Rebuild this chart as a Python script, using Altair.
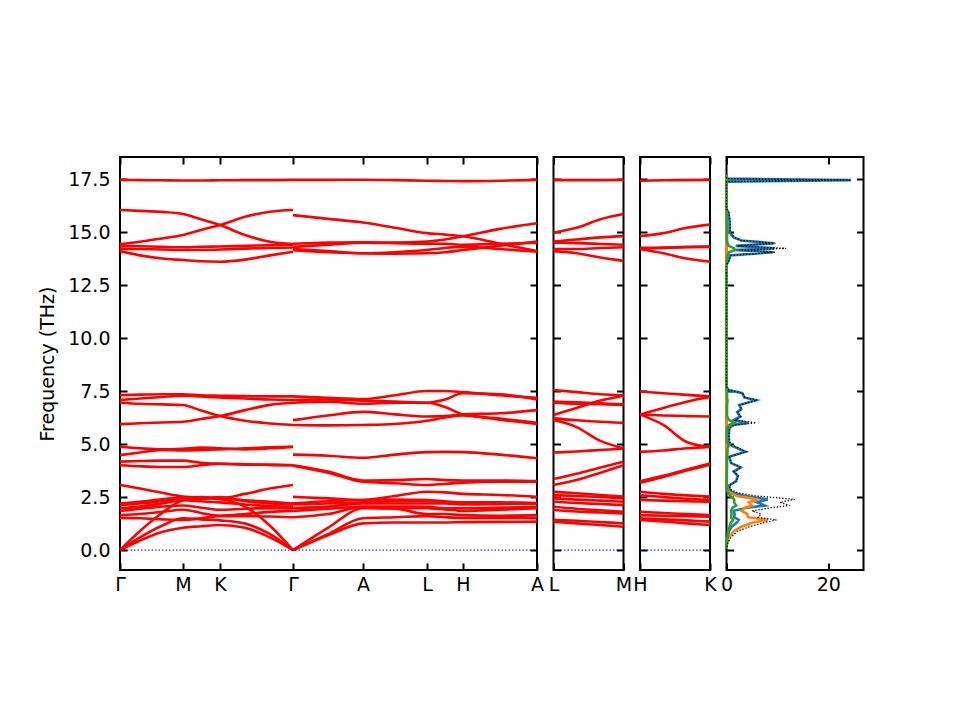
import altair as alt
import pandas as pd

# ---------------- axes / ticks ----------------
FREQ_TICKS = [0.0, 2.5, 5.0, 7.5, 10.0, 12.5, 15.0, 17.5]
Y_DOMAIN = [-0.94, 18.54]

PATH_POS = [0, 63, 100, 173, 243, 307, 343, 417]
PATH_LABELS = ["Γ", "M", "K", "Γ", "A", "L", "H", "A"]
LM_POS = [0, 70]
LM_LABELS = ["L", "M"]
HK_POS = [0, 69]
HK_LABELS = ["H", "K"]
DOS_TICKS = [0, 20]
DOS_DOMAIN = [0, 26.9]

# ---------------- band data (THz) ----------------
SEG1_K = [0, 20, 42, 63, 81, 100, 125, 150, 173]          # Γ-M-K-Γ
SEG1_BANDS = [
    [0, 0.45, 0.85, 1.05, 1.12, 1.18, 1.05, 0.6, 0],
    [0, 0.6, 1.15, 1.5, 1.45, 1.4, 1.25, 0.75, 0],
    [0, 0.9, 1.75, 2.35, 2.45, 2.4, 2.05, 1.15, 0],
    [1.52, 1.5, 1.45, 1.42, 1.5, 1.6, 1.6, 1.58, 1.55],
    [1.65, 1.7, 1.8, 1.9, 1.75, 1.62, 1.7, 1.8, 1.85],
    [1.84, 1.95, 2.05, 2.1, 2.0, 1.9, 1.95, 1.98, 1.98],
    [1.97, 2.05, 2.2, 2.35, 2.3, 2.25, 2.15, 2.08, 2.05],
    [2.12, 2.2, 2.3, 2.45, 2.42, 2.5, 2.3, 2.2, 2.15],
    [2.2, 2.28, 2.4, 2.48, 2.5, 2.45, 2.35, 2.28, 2.2],
    [3.07, 2.9, 2.7, 2.52, 2.47, 2.45, 2.65, 2.9, 3.07],
    [4.87, 4.8, 4.75, 4.78, 4.83, 4.8, 4.75, 4.8, 4.87],
    [4.48, 4.6, 4.72, 4.7, 4.72, 4.75, 4.8, 4.85, 4.87],
    [4.17, 4.2, 4.22, 4.22, 4.12, 4.07, 4.03, 4.02, 4.0],
    [4.0, 3.95, 3.92, 3.92, 4.0, 4.07, 4.05, 4.02, 4.0],
    [7.31, 7.33, 7.35, 7.35, 7.3, 7.28, 7.26, 7.25, 7.25],
    [7.08, 7.15, 7.22, 7.28, 7.24, 7.2, 7.15, 7.1, 7.08],
    [6.95, 6.9, 6.87, 6.84, 6.58, 6.32, 6.1, 5.97, 5.9],
    [5.94, 5.98, 6.02, 6.05, 6.18, 6.32, 6.6, 6.85, 6.95],
    [14.1, 13.9, 13.75, 13.68, 13.62, 13.6, 13.7, 13.9, 14.07],
    [14.22, 14.2, 14.18, 14.15, 14.15, 14.18, 14.22, 14.25, 14.27],
    [14.35, 14.33, 14.3, 14.28, 14.3, 14.32, 14.35, 14.38, 14.4],
    [14.43, 14.54, 14.7, 14.86, 15.1, 15.33, 15.72, 15.96, 16.04],
    [16.04, 16.0, 15.95, 15.85, 15.6, 15.33, 14.86, 14.54, 14.43],
    [17.46, 17.45, 17.44, 17.43, 17.43, 17.44, 17.45, 17.45, 17.46],
]

SEG2_K = [173, 208, 243, 275, 307, 325, 343, 380, 417]     # Γ-A-L-H-A
SEG2_BANDS = [
    [0, 0.7, 1.26, 1.3, 1.3, 1.3, 1.32, 1.33, 1.34],
    [0, 0.75, 1.5, 1.55, 1.6, 1.55, 1.52, 1.52, 1.52],
    [0, 1.05, 1.97, 1.95, 1.7, 1.7, 1.65, 1.62, 1.65],
    [1.55, 1.7, 2.04, 2.0, 1.97, 1.92, 1.85, 1.9, 1.97],
    [1.85, 1.95, 2.04, 2.05, 2.04, 1.97, 1.97, 2.0, 2.04],
    [1.98, 2.05, 2.2, 2.2, 2.2, 2.2, 2.15, 2.18, 2.2],
    [2.15, 2.2, 2.25, 2.3, 2.3, 2.27, 2.22, 2.2, 2.2],
    [2.2, 2.3, 2.36, 2.38, 2.36, 2.3, 2.25, 2.25, 2.22],
    [2.51, 2.44, 2.36, 2.55, 2.75, 2.72, 2.65, 2.6, 2.51],
    [3.98, 3.65, 3.22, 3.15, 3.07, 3.12, 3.18, 3.22, 3.22],
    [4.0, 3.7, 3.28, 3.3, 3.35, 3.3, 3.28, 3.28, 3.25],
    [4.5, 4.45, 4.35, 4.5, 4.62, 4.63, 4.62, 4.5, 4.33],
    [5.9, 5.88, 5.9, 5.95, 6.1, 6.25, 6.35, 6.15, 5.95],
    [6.13, 6.35, 6.52, 6.4, 6.3, 6.32, 6.4, 6.45, 6.6],
    [6.95, 7.0, 6.9, 6.95, 6.95, 6.75, 6.4, 6.2, 6.0],
    [7.08, 7.1, 7.05, 7.0, 6.95, 7.1, 7.4, 7.35, 7.1],
    [7.25, 7.18, 7.12, 7.3, 7.5, 7.5, 7.45, 7.3, 7.18],
    [14.15, 14.05, 14.0, 13.98, 14.0, 14.05, 14.15, 14.35, 14.55],
    [14.2, 14.1, 14.0, 14.05, 14.15, 14.25, 14.3, 14.2, 14.07],
    [14.3, 14.4, 14.5, 14.48, 14.45, 14.45, 14.4, 14.45, 14.5],
    [14.45, 14.5, 14.52, 14.5, 14.55, 14.65, 14.8, 15.15, 15.42],
    [15.8, 15.62, 15.45, 15.2, 14.95, 14.88, 14.8, 14.45, 14.1],
    [17.46, 17.46, 17.47, 17.45, 17.42, 17.41, 17.4, 17.42, 17.46],
]

LM_K = [0, 23, 47, 70]                                      # L-M
LM_BANDS = [
    [1.34, 1.26, 1.18, 1.1],
    [1.42, 1.38, 1.32, 1.26],
    [1.89, 1.82, 1.77, 1.73],
    [2.04, 1.95, 1.88, 1.81],
    [2.28, 2.22, 2.17, 2.12],
    [2.44, 2.38, 2.33, 2.28],
    [2.59, 2.55, 2.5, 2.44],
    [2.75, 2.68, 2.6, 2.52],
    [3.07, 3.3, 3.65, 4.0],
    [3.35, 3.6, 3.9, 4.17],
    [4.6, 4.65, 4.72, 4.78],
    [6.13, 5.8, 5.15, 4.8],
    [6.21, 6.12, 6.05, 6.0],
    [6.37, 6.7, 7.05, 7.28],
    [6.95, 6.9, 6.88, 6.84],
    [7.0, 6.97, 6.92, 6.87],
    [7.55, 7.45, 7.35, 7.3],
    [14.1, 14.0, 13.8, 13.64],
    [14.2, 14.2, 14.25, 14.28],
    [14.5, 14.48, 14.44, 14.4],
    [14.55, 14.65, 14.75, 14.81],
    [14.97, 15.2, 15.6, 15.85],
    [17.45, 17.45, 17.45, 17.46],
]

HK_K = [0, 23, 46, 69]                                      # H-K
HK_BANDS = [
    [1.42, 1.35, 1.26, 1.18],
    [1.5, 1.45, 1.4, 1.34],
    [1.65, 1.62, 1.6, 1.57],
    [1.81, 1.75, 1.7, 1.65],
    [2.36, 2.33, 2.3, 2.28],
    [2.59, 2.5, 2.42, 2.36],
    [2.75, 2.65, 2.58, 2.52],
    [3.18, 3.45, 3.75, 4.03],
    [3.25, 3.5, 3.8, 4.08],
    [4.63, 4.7, 4.8, 4.87],
    [6.4, 5.9, 5.1, 4.87],
    [6.4, 6.35, 6.32, 6.3],
    [6.4, 6.7, 7.0, 7.22],
    [7.48, 7.4, 7.32, 7.25],
    [14.2, 14.0, 13.75, 13.6],
    [14.22, 14.25, 14.28, 14.3],
    [14.25, 14.27, 14.3, 14.32],
    [14.81, 14.95, 15.2, 15.35],
    [17.42, 17.44, 17.45, 17.46],
]

# ---------------- DOS data ----------------
DOS_FREQ = [0.0, 0.3, 0.6, 0.9, 1.1, 1.3, 1.42, 1.55, 1.7, 1.85, 2.0, 2.1, 2.25, 2.39,
            2.55, 2.7, 2.85, 3.05, 3.25, 3.5, 3.7, 3.9, 4.1, 4.4, 4.64, 4.8, 4.95, 5.1,
            5.4, 5.75, 5.9, 6.0, 6.13, 6.3, 6.5, 6.65, 6.84, 7.07, 7.2, 7.4, 7.55, 7.7,
            13.45, 13.65, 13.9, 14.05, 14.15, 14.23, 14.35, 14.47, 14.6, 14.75, 15.0,
            15.5, 15.9, 16.1, 17.38, 17.45, 17.52, 17.7]
DOS_TOTAL = [0, 0.2, 0.9, 2.2, 4.5, 7.5, 9.8, 6.2, 6.8, 5.0, 8.8, 12.4, 10.5, 13.4,
             6.0, 2.2, 0.8, 0.6, 2.0, 2.3, 1.5, 2.9, 1.0, 0.6, 3.9, 2.4, 1.2, 0.6,
             0.5, 0.6, 1.6, 5.8, 1.8, 2.8, 2.2, 3.0, 2.6, 6.0, 3.6, 3.2, 0.5, 0,
             0, 0.5, 0.9, 9.6, 2.5, 11.7, 2.2, 9.6, 3.0, 1.5, 0.7,
             0.7, 0.5, 0, 0, 24.5, 0, 0]
DOS_BLUE = [0, 0.05, 0.25, 0.5, 1.0, 2.0, 2.4, 1.5, 1.6, 1.4, 4.0, 7.5, 6.0, 8.1,
            3.6, 1.3, 0.6, 0.5, 1.9, 2.2, 1.4, 2.8, 0.9, 0.5, 3.7, 2.2, 0.7, 0.5,
            0.45, 0.55, 1.2, 4.2, 1.4, 2.7, 2.1, 2.9, 2.5, 5.8, 3.5, 3.1, 0.4, 0,
            0, 0.4, 0.7, 9.1, 1.5, 9.4, 1.8, 9.4, 2.9, 1.4, 0.6,
            0.6, 0.4, 0, 0, 24.4, 0, 0]
DOS_ORANGE = [0, 0.1, 0.45, 1.5, 2.9, 5.2, 8.1, 4.2, 4.1, 3.0, 3.6, 5.0, 4.4, 6.1,
              2.0, 0.7, 0.1, 0.05, 0.05, 0.05, 0, 0, 0, 0, 0, 0, 0, 0,
              0, 0, 0, 0, 0, 0, 0, 0, 0, 0, 0, 0, 0, 0,
              0, 0, 0, 0, 0, 0, 0, 0, 0, 0, 0,
              0, 0, 0, 0, 0, 0, 0]
DOS_GREEN = [0, 0.05, 0.2, 0.3, 0.6, 0.9, 1.3, 0.9, 1.0, 0.9, 1.2, 1.9, 1.5, 1.5,
             0.8, 0.3, 0.1, 0.05, 0.05, 0.05, 0.05, 0.1, 0.1, 0.1, 0.2, 0.2, 0.5, 0.1,
             0.05, 0.05, 0.5, 1.6, 0.5, 0.1, 0.1, 0.1, 0.1, 0.2, 0.1, 0.1, 0.05, 0,
             0, 0.1, 0.2, 0.5, 1.6, 1.5, 0.4, 0.2, 0.1, 0.1, 0.1,
             0.05, 0.05, 0, 0, 0.1, 0, 0]

RED = "#ff0000"
HEIGHT = 413
TICK = 7


def band_frame(ks, bands, prefix):
    rows = []
    for i, b in enumerate(bands):
        for k, f in zip(ks, b):
            rows.append({"k": k, "f": f, "band": f"{prefix}{i}"})
    return pd.DataFrame(rows)


def label_expr(pos, labels):
    expr = "''"
    for p, l in reversed(list(zip(pos, labels))):
        expr = f"datum.value == {p} ? '{l}' : {expr}"
    return expr


def y_axes(show_labels):
    if show_labels:
        left = alt.Axis(orient="left", values=FREQ_TICKS, format=".1f", offset=-TICK,
                        tickSize=TICK, domain=False, grid=False, labelPadding=10,
                        title="Frequency (THz)", titlePadding=10)
    else:
        left = alt.Axis(orient="left", values=FREQ_TICKS, offset=-TICK, tickSize=TICK,
                        domain=False, grid=False, labels=False, title=None)
    right = alt.Axis(orient="right", values=FREQ_TICKS, offset=-TICK, tickSize=TICK,
                     domain=False, grid=False, labels=False, title=None)
    return left, right


def x_axes(pos, expr):
    bottom = alt.Axis(orient="bottom", values=pos, labelExpr=expr, offset=-TICK,
                      tickSize=TICK, domain=False, grid=False, labelPadding=5,
                      labelFlush=False, labelOverlap=False, title=None)
    top = alt.Axis(orient="top", values=pos, offset=-TICK, tickSize=TICK,
                   domain=False, grid=False, labels=False, title=None)
    return bottom, top


def band_panel(df, kdom, pos, labels, width, show_y):
    xs = alt.Scale(domain=kdom, nice=False, zero=False)
    ys = alt.Scale(domain=Y_DOMAIN, nice=False, zero=False)
    yl, yr = y_axes(show_y)
    xb, xt = x_axes(pos, label_expr(pos, labels))
    lines = alt.Chart(df).mark_line(color=RED, strokeWidth=2.6, interpolate="monotone").encode(
        x=alt.X("k:Q", scale=xs, axis=xb),
        y=alt.Y("f:Q", scale=ys, axis=yl),
        detail="band:N",
    )
    zero_df = pd.DataFrame({"k": [kdom[0], kdom[1]], "f": [0.0, 0.0]})
    zero = alt.Chart(zero_df).mark_line(color="#0000ff", strokeWidth=1, strokeDash=[1.5, 2]).encode(
        x=alt.X("k:Q", scale=xs, axis=xt),
        y=alt.Y("f:Q", scale=ys, axis=yr),
    )
    return alt.layer(lines, zero).resolve_scale(x="independent", y="independent").properties(
        width=width, height=HEIGHT)


main_df = pd.concat([band_frame(SEG1_K, SEG1_BANDS, "a"), band_frame(SEG2_K, SEG2_BANDS, "b")])
main = band_panel(main_df, [PATH_POS[0], PATH_POS[-1]], PATH_POS, PATH_LABELS, 417, True)
lm = band_panel(band_frame(LM_K, LM_BANDS, "c"), [LM_POS[0], LM_POS[-1]], LM_POS, LM_LABELS, 70, False)
hk = band_panel(band_frame(HK_K, HK_BANDS, "d"), [HK_POS[0], HK_POS[-1]], HK_POS, HK_LABELS, 70, False)

# DOS panel
dos_df = pd.DataFrame({"f": DOS_FREQ, "total": DOS_TOTAL, "blue": DOS_BLUE,
                       "orange": DOS_ORANGE, "green": DOS_GREEN})
dxs = alt.Scale(domain=DOS_DOMAIN, nice=False, zero=False)
dys = alt.Scale(domain=Y_DOMAIN, nice=False, zero=False)
dyl, dyr = y_axes(False)
dxb = alt.Axis(orient="bottom", values=DOS_TICKS, format="d", offset=-TICK, tickSize=TICK,
               domain=False, grid=False, labelPadding=5, labelFlush=False,
               labelOverlap=False, title=None)
dxt = alt.Axis(orient="top", values=DOS_TICKS, offset=-TICK, tickSize=TICK, domain=False,
               grid=False, labels=False, title=None)

partials = []
for col, color in [("blue", "#1f77b4"), ("orange", "#ff7f0e"), ("green", "#2ca02c")]:
    partials.append(
        alt.Chart(dos_df).mark_line(color=color, strokeWidth=2.6).encode(
            x=alt.X(f"{col}:Q", scale=dxs, axis=dxb),
            y=alt.Y("f:Q", scale=dys, axis=dyl),
            order=alt.Order("f:Q"),
        )
    )
partial_layer = alt.layer(*partials)
total = alt.Chart(dos_df).mark_line(color="black", strokeWidth=1.3, strokeDash=[1.3, 1.8]).encode(
    x=alt.X("total:Q", scale=dxs, axis=dxt),
    y=alt.Y("f:Q", scale=dys, axis=dyr),
    order=alt.Order("f:Q"),
)
dos = alt.layer(partial_layer, total).resolve_scale(x="independent", y="independent").properties(
    width=137, height=HEIGHT)

chart = alt.hconcat(main, lm, hk, dos, spacing=16.5, bounds="flush").properties(
    padding={"left": 29, "top": 147, "right": 5, "bottom": 5}
).configure_view(
    stroke="black", strokeWidth=2
).configure_axis(
    labelFont="DejaVu Sans", titleFont="DejaVu Sans", labelFontSize=19, titleFontSize=19,
    titleFontWeight="normal", tickColor="black", tickWidth=2, labelColor="black",
    titleColor="black"
)

chart.save("out.html", embed_options={"renderer": "svg", "actions": False})
